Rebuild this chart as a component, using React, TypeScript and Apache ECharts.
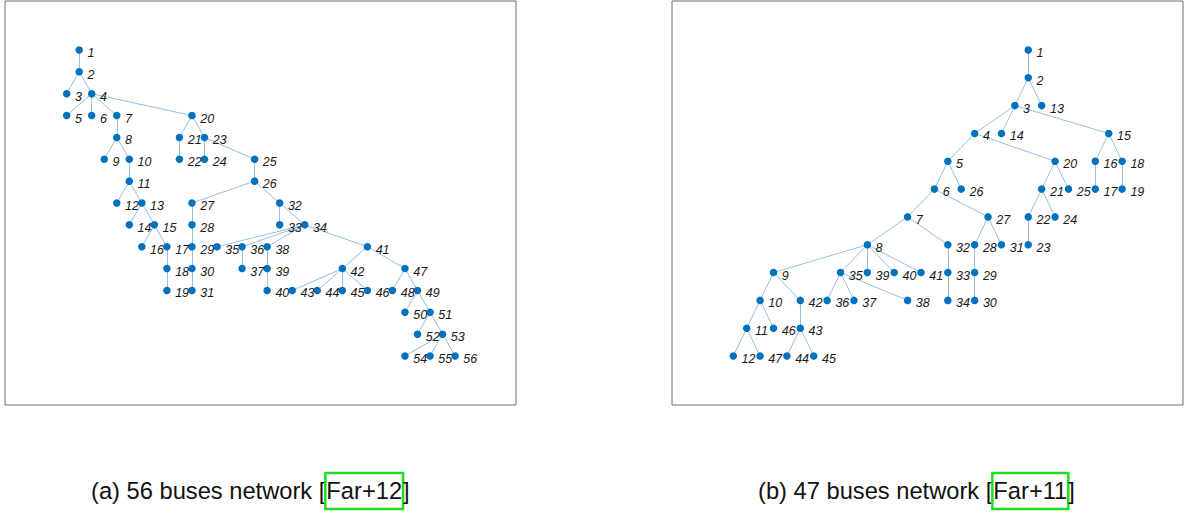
import React, { useEffect, useRef } from "react";
import * as echarts from "echarts";

// Panel (a): 56 buses — grid column / row of each bus (1..56)
const colsA = [1,1,0,2,0,2,4,4,3,5,5,4,6,5,7,6,8,8,8,10,9,9,11,11,15,15,10,10,10,10,10,17,17,19,12,14,14,16,16,16,24,22,18,20,22,24,27,26,28,27,29,28,30,27,29,31];
const rowsA = [0,1,2,2,3,3,3,4,5,5,6,7,7,8,8,9,9,10,11,3,4,5,4,5,5,6,7,8,9,10,11,7,8,8,9,9,10,9,10,11,9,10,11,11,11,11,10,11,11,12,12,13,13,14,14,14];
const edgesA: [number, number][] = [
  [1,2],[2,3],[2,4],[4,5],[4,6],[4,7],[4,20],[7,8],[8,9],[8,10],[10,11],[11,12],[11,13],[13,14],[13,15],
  [15,16],[15,17],[17,18],[18,19],[20,21],[20,23],[21,22],[23,24],[23,25],[25,26],[26,27],[26,32],
  [27,28],[28,29],[29,30],[30,31],[32,33],[32,34],[34,35],[34,36],[34,38],[34,41],[36,37],[38,39],[39,40],
  [41,42],[41,47],[42,43],[42,44],[42,45],[42,46],[47,48],[47,49],[49,50],[49,51],[51,52],[51,53],[53,54],[53,55],[53,56],
];

// Panel (b): 47 buses
const colsB = [22,22,21,18,16,15,13,10,3,2,1,0,23,20,28,27,27,29,29,24,23,22,22,24,25,17,19,18,18,18,20,16,16,16,8,7,9,13,10,12,14,5,5,4,6,3,2];
const rowsB = [0,1,2,3,4,5,6,7,8,9,10,11,2,3,3,4,5,4,5,4,5,6,7,6,5,5,6,7,8,9,7,7,8,9,8,9,9,9,8,8,8,9,10,11,11,10,11];
const edgesB: [number, number][] = [
  [1,2],[2,3],[2,13],[3,4],[3,14],[3,15],[4,5],[4,20],[5,6],[5,26],[6,7],[6,27],[7,8],[7,32],
  [8,9],[8,35],[8,39],[8,40],[8,41],[9,10],[9,42],[10,11],[10,46],[11,12],[11,47],[42,43],[43,44],[43,45],
  [35,36],[35,37],[35,38],[32,33],[33,34],[27,28],[27,31],[28,29],[29,30],[20,21],[20,25],[21,22],[21,24],[22,23],
  [15,16],[15,18],[16,17],[18,19],
];

const captions = ["(a) 56 buses network [", "(b) 47 buses network ["];
const citations = ["Far+12", "Far+11"];

const NODE = "#0072BD";
const EDGE = "#93c1e4";
const FONT = "'Liberation Sans', Arial, Helvetica, sans-serif";

function graphSeries(cols: number[], rows: number[], edges: [number, number][], idx: number) {
  return {
    type: "graph",
    coordinateSystem: "cartesian2d",
    xAxisIndex: idx,
    yAxisIndex: idx,
    symbol: "circle",
    symbolSize: 7.5,
    silent: true,
    itemStyle: { color: NODE },
    lineStyle: { color: EDGE, width: 1, opacity: 1 },
    label: {
      show: true,
      position: "right",
      distance: 4.5,
      offset: [0, 3],
      formatter: "{b}",
      fontFamily: FONT,
      fontStyle: "italic",
      fontSize: 12.5,
      color: "#1a1a1a",
    },
    data: cols.map((c, i) => ({ name: String(i + 1), value: [c, rows[i]] })),
    links: edges.map(([s, t]) => ({ source: s - 1, target: t - 1 })),
  };
}

export default function App() {
  const ref = useRef<HTMLDivElement>(null);
  useEffect(() => {
    document.body.style.margin = "0";
    const chart = echarts.init(ref.current!, null, { renderer: "svg" });
    const gridBase = { show: true, borderColor: "#6e6e6e", borderWidth: 1, backgroundColor: "#fff", containLabel: false };
    const axisOff = { type: "value", show: false, splitLine: { show: false } };
    chart.setOption({
      animation: false,
      backgroundColor: "#fff",
      grid: [
        { ...gridBase, left: 5, top: 1, width: 511, height: 404 },
        { ...gridBase, left: 672, top: 1, width: 511, height: 404 },
      ],
      xAxis: [
        { ...axisOff, gridIndex: 0, min: -4.92, max: 35.86 },
        { ...axisOff, gridIndex: 1, min: -4.57, max: 33.54 },
      ],
      yAxis: [
        { ...axisOff, gridIndex: 0, min: -2.24, max: 16.24, inverse: true },
        { ...axisOff, gridIndex: 1, min: -1.76, max: 12.76, inverse: true },
      ],
      series: [
        graphSeries(colsA, rowsA, edgesA, 0),
        graphSeries(colsB, rowsB, edgesB, 1),
      ],
      graphic: captions.map((cap, i) => ({
        type: "text",
        x: i === 0 ? 91 : 758,
        y: 491,
        style: {
          text: `{n|${cap}}{g|${citations[i]}}{n|]}`,
          textAlign: "left",
          textVerticalAlign: "middle",
          rich: {
            n: { fontFamily: FONT, fontSize: 23.7, fill: "#111" },
            g: {
              fontFamily: FONT,
              fontSize: 23.7,
              fill: "#111",
              borderColor: "#22dd22",
              borderWidth: 2.5,
              padding: [6, 1, 6, 1],
            },
          },
        },
      })),
    });
    return () => chart.dispose();
  }, []);
  return <div ref={ref} style={{ width: 1188, height: 513 }} />;
}
